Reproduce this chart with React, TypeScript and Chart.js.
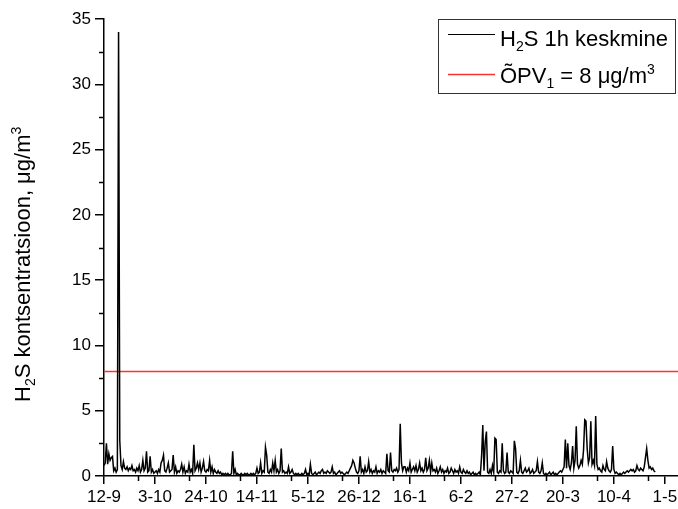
import React, { useEffect, useRef } from "react";
import { Chart, registerables } from "chart.js";

Chart.register(...registerables);

// ---- data (days counted from 12-9) ----
const X_TICK_DAYS = [0, 21, 42, 63, 84, 105, 126, 147, 168, 189, 210, 231];
const X_TICK_LABELS = ["12-9", "3-10", "24-10", "14-11", "5-12", "26-12", "16-1", "6-2", "27-2", "20-3", "10-4", "1-5"];
const X_MINOR_DAYS = [14, 35, 56, 77, 98, 119, 140, 161, 182, 203, 224];
const X_MAX_DAY = 236.4;
const Y_TICKS = [0, 5, 10, 15, 20, 25, 30, 35];
const Y_MINOR_TICKS = [2.5, 7.5, 12.5, 17.5, 22.5, 27.5, 32.5];
const SAMPLE_STEP_DAYS = 0.5;
const OPV_LIMIT = 8;

// H2S 1h average concentration, sampled every half day (µg/m3)
const H2S_VALUES = [
  0.8, 1.0, 2.5, 0.9, 1.7, 1.2, 1.4, 1.5, 0.4, 0.6, 0.3, 0.5, 34, 2.7,
  0.8, 0.5, 1.1, 0.6, 0.5, 0.7, 0.4, 0.6, 0.5, 0.8, 0.4, 0.5, 0.3, 0.6,
  0.4, 0.8, 0.3, 0.5, 1.2, 0.4, 0.6, 1.9, 0.3, 0.4, 1.5, 0.3, 0.5, 0.2,
  0.3, 0.4, 0.2, 0.5, 0.3, 1.0, 1.2, 1.6, 0.4, 0.3, 0.6, 1.0, 0.3, 0.4,
  0.5, 1.6, 0.3, 0.7, 0.2, 0.4, 0.3, 0.5, 0.9, 0.3, 0.7, 0.2, 0.4, 0.3,
  0.9, 0.3, 0.5, 0.2, 2.4, 0.4, 0.6, 1.0, 0.5, 1.0, 0.3, 0.6, 1.1, 0.4,
  0.3, 0.5, 0.4, 1.2, 0.3, 0.7, 0.2, 0.5, 0.3, 0.2, 0.4, 0.2, 0.3, 0.1,
  0.2, 0.1, 0.2, 0.1, 0.2, 0.1, 0.1, 0.2, 1.9, 0.2, 0.5, 0.1, 0.2, 0.1,
  0.1, 0.2, 0.1, 0.1, 0.2, 0.1, 0.2, 0.1, 0.1, 0.2, 0.1, 0.2, 0.1, 0.2,
  0.6, 0.2, 0.3, 1.0, 0.2, 0.4, 0.3, 2.2, 1.6, 0.3, 0.2, 0.5, 0.3, 1.0,
  0.4, 1.2, 0.3, 0.5, 0.2, 0.4, 2.1, 0.3, 0.4, 0.2, 0.3, 0.2, 0.7, 0.2,
  0.3, 0.5, 0.2, 0.1, 0.2, 0.1, 0.2, 0.1, 0.1, 0.2, 0.1, 0.2, 0.5, 0.1,
  0.2, 0.1, 0.9, 0.2, 0.1, 0.2, 0.3, 0.1, 0.2, 0.3, 0.2, 0.4, 0.5, 0.2,
  0.3, 0.2, 0.4, 0.3, 0.2, 0.3, 0.7, 0.2, 0.3, 0.1, 0.2, 0.3, 0.4, 0.2,
  0.3, 0.2, 0.1, 0.2, 0.3, 0.2, 0.4, 0.6, 0.8, 1.2, 1.0, 0.6, 0.3, 0.2,
  0.4, 1.5, 0.3, 0.5, 0.2, 0.7, 0.3, 0.4, 1.1, 0.3, 0.5, 0.2, 0.4, 0.3,
  0.7, 0.2, 0.4, 0.3, 0.5, 0.2, 0.4, 0.3, 0.2, 1.7, 0.4, 0.3, 1.8, 0.4,
  0.3, 0.5, 0.4, 0.6, 0.3, 0.5, 4.0, 1.0, 0.4, 0.7, 0.7, 0.3, 0.6, 0.4,
  1.0, 0.3, 0.5, 0.7, 0.4, 0.8, 0.3, 0.5, 1.0, 0.4, 0.6, 0.3, 0.5, 1.4,
  0.4, 0.6, 1.2, 0.3, 1.0, 0.4, 0.5, 0.3, 0.6, 0.2, 0.4, 0.7, 0.3, 0.5,
  0.2, 0.4, 0.3, 0.6, 0.2, 0.3, 0.6, 0.4, 0.2, 0.5, 0.3, 0.4, 0.2, 0.7,
  0.3, 0.2, 0.5, 0.3, 0.2, 0.4, 0.2, 0.3, 0.1, 0.2, 0.3, 0.1, 0.2, 0.1,
  0.2, 0.3, 0.1, 1.5, 3.9, 0.4, 2.6, 3.4, 0.3, 0.2, 0.5, 0.2, 0.8, 0.3,
  2.9, 2.8, 0.3, 0.2, 0.4, 0.3, 2.5, 0.4, 0.2, 0.3, 1.8, 0.3, 0.2, 0.4,
  0.3, 0.2, 2.7, 2.1, 0.3, 0.2, 0.4, 1.2, 0.3, 0.2, 0.4, 0.6, 0.3, 0.4,
  0.6, 0.2, 0.3, 0.5, 0.2, 0.3, 0.4, 1.1, 0.3, 0.2, 0.4, 1.0, 0.2, 0.1,
  0.2, 0.1, 0.2, 0.3, 0.1, 0.2, 0.3, 0.1, 0.2, 0.1, 0.2, 0.3, 0.4, 0.3,
  0.5, 0.7, 2.8, 0.6, 2.5, 0.8, 0.5, 1.0, 2.3, 0.6, 1.2, 3.8, 0.9, 0.6,
  0.8, 1.2, 0.9, 2.0, 4.3, 4.2, 2.1, 1.0, 1.4, 4.2, 0.9, 1.2, 0.8, 4.6,
  0.9, 0.5, 0.6, 0.4, 0.3, 0.8, 0.5, 0.4, 1.1, 0.6, 0.4, 0.3, 0.5, 2.3,
  0.5, 0.2, 0.3, 0.2, 0.1, 0.2, 0.1, 0.2, 0.3, 0.2, 0.3, 0.4, 0.3, 0.4,
  0.5, 0.4, 0.5, 0.3, 0.4, 0.8, 0.5, 0.4, 0.6, 0.5, 0.4, 0.7, 1.4, 2.1,
  1.2, 0.6, 0.7, 0.5, 0.6, 0.4, 0.3,
];

const FONT = "'Liberation Sans', Arial, sans-serif";
const LIMIT_COLOR = "#ff3030";

type Seg = { t: string; sub?: boolean; sup?: boolean };

function drawRich(ctx: CanvasRenderingContext2D, segs: Seg[], x: number, y: number, size: number) {
  let cx = x;
  ctx.textBaseline = "alphabetic";
  ctx.textAlign = "left";
  for (const s of segs) {
    const small = s.sub || s.sup;
    const fs = small ? Math.round(size * 0.64) : size;
    ctx.font = `${fs}px ${FONT}`;
    const dy = s.sub ? size * 0.24 : s.sup ? -size * 0.42 : 0;
    ctx.fillText(s.t, cx, y + dy);
    cx += ctx.measureText(s.t).width;
  }
  return cx - x;
}

const Y_TITLE: Seg[] = [
  { t: "H" }, { t: "2", sub: true }, { t: "S kontsentratsioon, \u03bcg/m" }, { t: "3", sup: true },
];
const LEGEND_1: Seg[] = [{ t: "H" }, { t: "2", sub: true }, { t: "S 1h keskmine" }];
const LEGEND_2: Seg[] = [{ t: "\u00d5PV" }, { t: "1", sub: true }, { t: " = 8 \u03bcg/m" }, { t: "3", sup: true }];

const decorPlugin = {
  id: "decor",
  afterDraw(chart: any) {
    const ctx: CanvasRenderingContext2D = chart.ctx;
    const xs = chart.scales.x;
    const ys = chart.scales.y;
    const area = chart.chartArea;
    ctx.save();
    ctx.strokeStyle = "#000";
    ctx.lineWidth = 1.5;
    // minor ticks
    ctx.beginPath();
    for (const d of X_MINOR_DAYS) {
      const px = Math.round(xs.getPixelForValue(d)) + 0.5;
      ctx.moveTo(px, area.bottom);
      ctx.lineTo(px, area.bottom + 5);
    }
    for (const v of Y_MINOR_TICKS) {
      const py = Math.round(ys.getPixelForValue(v)) + 0.5;
      ctx.moveTo(area.left - 5, py);
      ctx.lineTo(area.left, py);
    }
    ctx.stroke();

    // y axis title
    ctx.fillStyle = "#000";
    ctx.save();
    ctx.translate(30, 402);
    ctx.rotate(-Math.PI / 2);
    drawRich(ctx, Y_TITLE, 0, 0, 22);
    ctx.restore();

    // legend box
    ctx.lineWidth = 1;
    ctx.strokeStyle = "#333";
    ctx.strokeRect(438.5, 19.5, 237, 74);
    ctx.strokeStyle = "#000";
    ctx.lineWidth = 1.2;
    ctx.beginPath();
    ctx.moveTo(448, 34.5);
    ctx.lineTo(495, 34.5);
    ctx.stroke();
    ctx.strokeStyle = LIMIT_COLOR;
    ctx.lineWidth = 1.5;
    ctx.beginPath();
    ctx.moveTo(448, 74.5);
    ctx.lineTo(495, 74.5);
    ctx.stroke();
    ctx.fillStyle = "#000";
    drawRich(ctx, LEGEND_1, 500, 46, 22);
    drawRich(ctx, LEGEND_2, 500, 83, 22);
    ctx.restore();
  },
};

export default function App() {
  const ref = useRef<HTMLCanvasElement | null>(null);
  useEffect(() => {
    if (!ref.current) return;
    const lineData = H2S_VALUES.map((v, i) => ({ x: i * SAMPLE_STEP_DAYS, y: v }));
    const limitData = [
      { x: 0, y: OPV_LIMIT },
      { x: X_MAX_DAY, y: OPV_LIMIT },
    ];
    const chart = new Chart(ref.current, {
      type: "line",
      data: {
        datasets: [
          {
            label: "H2S 1h keskmine",
            data: lineData,
            borderColor: "#000",
            borderWidth: 1.5,
            pointRadius: 0,
            tension: 0,
            fill: false,
          },
          {
            label: "ÕPV1 = 8 µg/m3",
            data: limitData,
            borderColor: LIMIT_COLOR,
            borderWidth: 1.5,
            pointRadius: 0,
            fill: false,
          },
        ],
      },
      options: {
        animation: false,
        responsive: false,
        devicePixelRatio: 1,
        layout: { padding: { top: 19, left: 0, right: 0, bottom: 0 } },
        plugins: { legend: { display: false }, tooltip: { enabled: false } },
        scales: {
          x: {
            type: "linear",
            min: 0,
            max: X_MAX_DAY,
            afterBuildTicks: (s: any) => {
              s.ticks = X_TICK_DAYS.map((v) => ({ value: v }));
            },
            afterFit: (s: any) => {
              s.height = 33;
              s.paddingLeft = 0;
              s.paddingRight = 0;
            },
            ticks: {
              autoSkip: false,
              maxRotation: 0,
              padding: 3,
              color: "#000",
              font: { family: FONT, size: 17 },
              callback: (v: any) => {
                const i = X_TICK_DAYS.indexOf(Number(v));
                return i >= 0 ? X_TICK_LABELS[i] : "";
              },
            },
            grid: { drawOnChartArea: false, drawTicks: true, tickLength: 8, color: "#000", lineWidth: 1.5 },
            border: { display: true, color: "#000", width: 1.5 },
          },
          y: {
            min: 0,
            max: 35,
            afterBuildTicks: (s: any) => {
              s.ticks = Y_TICKS.map((v) => ({ value: v }));
            },
            afterFit: (s: any) => {
              s.width = 104;
              s.paddingTop = 0;
              s.paddingBottom = 0;
            },
            ticks: {
              padding: 4,
              color: "#000",
              font: { family: FONT, size: 17 },
            },
            grid: { drawOnChartArea: false, drawTicks: true, tickLength: 9, color: "#000", lineWidth: 1.5 },
            border: { display: true, color: "#000", width: 1.5 },
          },
        },
      },
      plugins: [decorPlugin],
    });
    return () => chart.destroy();
  }, []);
  return (
    <div style={{ position: "fixed", left: 0, top: 0, width: 678, height: 509, background: "#fff" }}>
      <canvas ref={ref} width={678} height={509} />
    </div>
  );
}
